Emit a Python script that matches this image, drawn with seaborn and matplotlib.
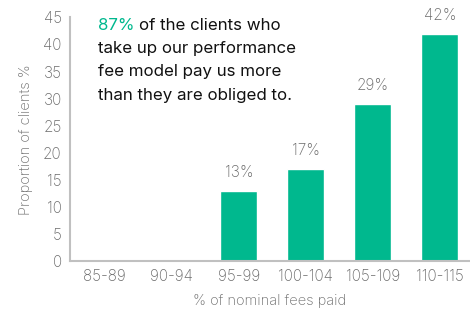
import matplotlib
matplotlib.use("Agg")
import matplotlib.pyplot as plt
import seaborn as sns
import pandas as pd

# data
fee_bands = ["85-89", "90-94", "95-99", "100-104", "105-109", "110-115"]
proportion = [0, 0, 13, 17, 29, 42]
bar_labels = ["", "", "13%", "17%", "29%", "42%"]

green = "#00B88E"
grey = "#6b6b6b"

sns.set_style("white")
plt.rcParams["font.family"] = ["Inter", "DejaVu Sans"]

data = pd.DataFrame({"band": fee_bands, "pct": proportion})

fig, ax = plt.subplots(figsize=(4.7, 3.17), dpi=100)
fig.subplots_adjust(left=0.149, right=1.0, top=0.945, bottom=0.177)

sns.barplot(data=data, x="band", y="pct", color=green, width=0.55,
            saturation=1, ax=ax)

for i, (v, lab) in enumerate(zip(proportion, bar_labels)):
    if lab:
        ax.text(i, v + 2.0, lab, ha="center", va="bottom",
                fontsize=11, color=grey, fontweight="light")

ax.set_ylim(0, 45)
ax.set_xlim(-0.52, 5.45)
ax.set_yticks(range(0, 46, 5))
ax.tick_params(axis="both", length=0, labelsize=11, labelcolor=grey, pad=6)
for lab in ax.get_xticklabels() + ax.get_yticklabels():
    lab.set_fontweight("light")
ax.set_xlabel("% of nominal fees paid", fontsize=10.5, color=grey, labelpad=7,
              fontweight="light")
ax.set_ylabel("Proportion of clients %", fontsize=10.5, color=grey, labelpad=7,
              fontweight="light")

for s in ["top", "right"]:
    ax.spines[s].set_visible(False)
for s in ["left", "bottom"]:
    ax.spines[s].set_color("#c0c0c0")
    ax.spines[s].set_linewidth(1.5)

# annotation with coloured highlight
lines = ["of the clients who", "take up our performance",
         "fee model pay us more", "than they are obliged to."]
tx, ty = 98 / 470, 1 - 25 / 317
step = 23.5 / 317
t = fig.text(tx, ty, "87%", color=green, fontsize=12.2, va="center")
fig.canvas.draw()
bb = t.get_window_extent()
fig.text(bb.x1 / 470 + 0.009, ty, lines[0], color="#111111",
         fontsize=12.2, va="center")
for k, line in enumerate(lines[1:], start=1):
    fig.text(tx, ty - k * step, line, color="#111111", fontsize=12.2,
             va="center")

fig.savefig("out.png", dpi=100)
